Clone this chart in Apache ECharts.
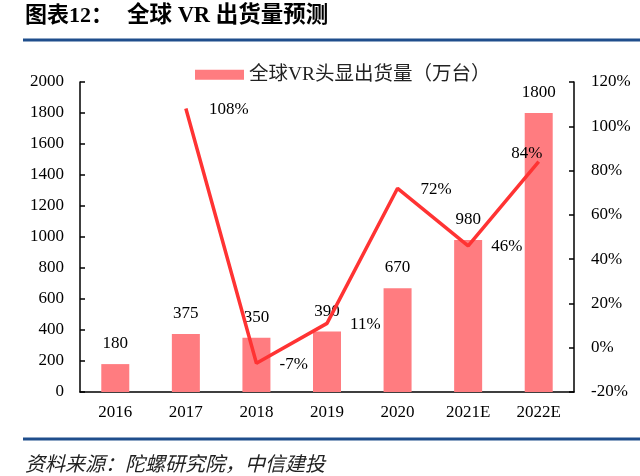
<!DOCTYPE html>
<html>
<head>
<meta charset="utf-8">
<script src="https://cdn.jsdelivr.net/npm/echarts@6/dist/echarts.min.js"></script>
<style>
html,body{margin:0;padding:0;background:#fff;}
#chart{width:640px;height:476px;}
</style>
</head>
<body>
<div id="chart"></div>
<script>
var categories = ['2016','2017','2018','2019','2020','2021E','2022E'];
var shipments = [180, 375, 350, 390, 670, 980, 1800];
var growth = [null, 108, -7, 11, 72, 46, 84];
var leftTicks = {min: 0, max: 2000, interval: 200};
var rightTicks = {min: -20, max: 120, interval: 20};
var seriesName = '全球VR头显出货量（万台）';
var titleLabel = '图表12：';
var titleText = '全球 VR 出货量预测';
var sourceText = '资料来源：陀螺研究院，中信建投';

var serif = '"Liberation Serif", "Times New Roman", serif';
var cjk = '"Noto Sans CJK SC", sans-serif';
var mixed = '"Liberation Serif", "Noto Sans CJK SC", serif';

var growthData = growth.map(function (v, i) {
  if (v === null) return null;
  var item = {value: v};
  if (i === growth.length - 1) {
    item.label = {position: 'top', distance: 0, offset: [-12, 0]};
  }
  return item;
});

var chart = echarts.init(document.getElementById('chart'));
chart.setOption({
  animation: false,
  backgroundColor: '#fff',
  grid: {left: 80, right: 66, top: 82, bottom: 84},
  legend: {
    data: [seriesName],
    left: 190, top: 60,
    itemWidth: 49, itemHeight: 10, itemGap: 6,
    icon: 'rect',
    textStyle: {fontFamily: mixed, fontSize: 19.5, color: '#222'}
  },
  xAxis: {
    type: 'category',
    data: categories,
    axisLine: {lineStyle: {color: '#000', width: 1.5}},
    axisTick: {inside: true, length: 5, lineStyle: {color: '#000', width: 1.5}},
    axisLabel: {fontFamily: serif, fontSize: 17, color: '#000', margin: 12}
  },
  yAxis: [{
    type: 'value',
    min: leftTicks.min, max: leftTicks.max, interval: leftTicks.interval,
    splitLine: {show: false},
    axisLine: {show: true, lineStyle: {color: '#000', width: 1.5}},
    axisTick: {show: true, inside: true, length: 5, lineStyle: {color: '#000', width: 1.5}},
    axisLabel: {fontFamily: serif, fontSize: 17, color: '#000', margin: 16, formatter: function (v) { return String(v); }}
  }, {
    type: 'value',
    min: rightTicks.min, max: rightTicks.max, interval: rightTicks.interval,
    splitLine: {show: false},
    axisLine: {show: true, lineStyle: {color: '#000', width: 1.5}},
    axisTick: {show: true, inside: true, length: 5, lineStyle: {color: '#000', width: 1.5}},
    axisLabel: {fontFamily: serif, fontSize: 17, color: '#000', margin: 17, formatter: '{value}%'}
  }],
  series: [{
    name: seriesName,
    type: 'bar',
    data: shipments,
    barWidth: 28,
    itemStyle: {color: '#FF7C80'},
    label: {show: true, position: 'top', distance: 12, fontFamily: serif, fontSize: 17, color: '#000'}
  }, {
    name: 'growth',
    type: 'line',
    yAxisIndex: 1,
    data: growthData,
    symbol: 'circle',
    symbolSize: 0.1,
    showSymbol: true,
    lineStyle: {color: '#FF3333', width: 3.5},
    itemStyle: {color: '#FF3333'},
    z: 5,
    label: {show: true, position: 'right', distance: 23, offset: [0, 1], fontFamily: serif, fontSize: 17, color: '#000', formatter: '{c}%'}
  }],
  graphic: [
    {type: 'text', left: 25, top: 5, style: {text: titleLabel, font: 'bold 22px ' + mixed, fill: '#000'}},
    {type: 'text', left: 127, top: 5, style: {text: titleText, font: 'bold 22.5px ' + mixed, fill: '#000'}},
    {type: 'rect', shape: {x: 23, y: 38.5, width: 617, height: 3}, style: {fill: '#1F4E8C'}},
    {type: 'rect', shape: {x: 23, y: 437.5, width: 617, height: 3}, style: {fill: '#1F4E8C'}},
    {type: 'text', left: 25, top: 453, style: {text: sourceText, font: 'italic 20px ' + cjk, fill: '#222'}}
  ]
});
</script>
</body>
</html>
